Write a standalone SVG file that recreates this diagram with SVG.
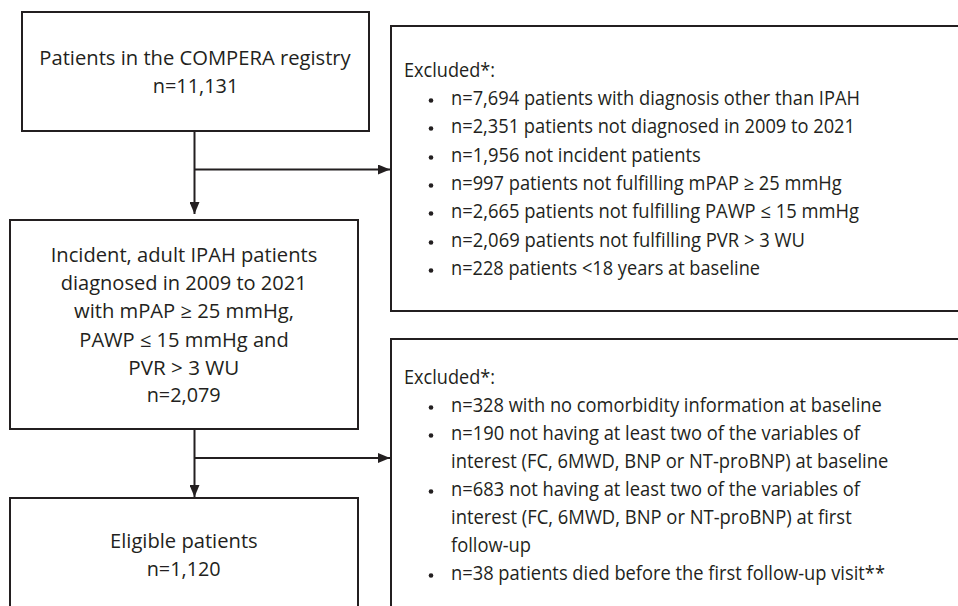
<svg xmlns="http://www.w3.org/2000/svg" width="958" height="606" viewBox="0 0 958 606">
<style>
.box{fill:#fff;stroke:#231f20;stroke-width:2}
.t{font-family:"Open Sans",Lato,"Liberation Sans",sans-serif;font-size:19.5px;fill:#231f20}
.ln{stroke:#231f20;stroke-width:2;fill:none}
.b{fill:#231f20}
</style>
<defs>
<marker id="ah" viewBox="0 0 12 10" refX="12" refY="5" markerWidth="12" markerHeight="10" markerUnits="userSpaceOnUse" orient="auto">
<path d="M0,0 L12,5 L0,10 Z" fill="#231f20"/>
</marker>
</defs>
<rect width="958" height="606" fill="#fff"/>
<g id="connectors">
<path class="ln" d="M194.5,131 V214" marker-end="url(#ah)"/>
<path class="ln" d="M194.5,169.5 H390" marker-end="url(#ah)"/>
<path class="ln" d="M194.5,429 V497" marker-end="url(#ah)"/>
<path class="ln" d="M194.5,458 H390" marker-end="url(#ah)"/>
</g>
<g id="registry">
<rect class="box" x="22" y="12" width="347" height="119"/>
<g class="t">
<text x="39.3" y="65" textLength="311.4" lengthAdjust="spacingAndGlyphs">Patients in the COMPERA registry</text>
<text x="152.7" y="93" textLength="85.6" lengthAdjust="spacingAndGlyphs">n=11,131</text>
</g>
</g>
<g id="excluded1">
<rect class="box" x="391" y="26" width="600" height="285"/>
<g class="b">
<circle cx="431" cy="100.5" r="2.3"/><circle cx="431" cy="128.5" r="2.3"/><circle cx="431" cy="157.5" r="2.3"/><circle cx="431" cy="185.5" r="2.3"/><circle cx="431" cy="213.5" r="2.3"/><circle cx="431" cy="242.5" r="2.3"/><circle cx="431" cy="270.5" r="2.3"/>
</g>
<g class="t">
<text x="404" y="77" textLength="91" lengthAdjust="spacingAndGlyphs">Excluded*:</text>
<text x="451" y="105" textLength="409" lengthAdjust="spacingAndGlyphs">n=7,694 patients with diagnosis other than IPAH</text>
<text x="451" y="133" textLength="404" lengthAdjust="spacingAndGlyphs">n=2,351 patients not diagnosed in 2009 to 2021</text>
<text x="451" y="162" textLength="249.7" lengthAdjust="spacingAndGlyphs">n=1,956 not incident patients</text>
<text x="451" y="190" textLength="390.7" lengthAdjust="spacingAndGlyphs">n=997 patients not fulfilling mPAP ≥ 25 mmHg</text>
<text x="451" y="218" textLength="408" lengthAdjust="spacingAndGlyphs">n=2,665 patients not fulfilling PAWP ≤ 15 mmHg</text>
<text x="451" y="247" textLength="354" lengthAdjust="spacingAndGlyphs">n=2,069 patients not fulfilling PVR &gt; 3 WU</text>
<text x="451" y="275" textLength="309" lengthAdjust="spacingAndGlyphs">n=228 patients &lt;18 years at baseline</text>
</g>
</g>
<g id="incident">
<rect class="box" x="10" y="220" width="348" height="209"/>
<g class="t">
<text x="50.7" y="262" textLength="266.6" lengthAdjust="spacingAndGlyphs">Incident, adult IPAH patients</text>
<text x="60.7" y="290" textLength="246" lengthAdjust="spacingAndGlyphs">diagnosed in 2009 to 2021</text>
<text x="74" y="318" textLength="220" lengthAdjust="spacingAndGlyphs">with mPAP ≥ 25 mmHg,</text>
<text x="79.3" y="347" textLength="209.4" lengthAdjust="spacingAndGlyphs">PAWP ≤ 15 mmHg and</text>
<text x="128.3" y="375" textLength="111" lengthAdjust="spacingAndGlyphs">PVR &gt; 3 WU</text>
<text x="146.7" y="402" textLength="74" lengthAdjust="spacingAndGlyphs">n=2,079</text>
</g>
</g>
<g id="excluded2">
<rect class="box" x="391" y="339" width="600" height="300"/>
<g class="b">
<circle cx="431" cy="407.5" r="2.3"/><circle cx="431" cy="435.5" r="2.3"/><circle cx="431" cy="491.5" r="2.3"/><circle cx="431" cy="575.5" r="2.3"/>
</g>
<g class="t">
<text x="404" y="384" textLength="91" lengthAdjust="spacingAndGlyphs">Excluded*:</text>
<text x="451" y="412" textLength="430.7" lengthAdjust="spacingAndGlyphs">n=328 with no comorbidity information at baseline</text>
<text x="451" y="440" textLength="409" lengthAdjust="spacingAndGlyphs">n=190 not having at least two of the variables of</text>
<text x="451" y="468" textLength="437.3" lengthAdjust="spacingAndGlyphs">interest (FC, 6MWD, BNP or NT-proBNP) at baseline</text>
<text x="451" y="496" textLength="409" lengthAdjust="spacingAndGlyphs">n=683 not having at least two of the variables of</text>
<text x="451" y="524" textLength="400.7" lengthAdjust="spacingAndGlyphs">interest (FC, 6MWD, BNP or NT-proBNP) at first</text>
<text x="451" y="552" textLength="80" lengthAdjust="spacingAndGlyphs">follow-up</text>
<text x="451" y="580" textLength="434" lengthAdjust="spacingAndGlyphs">n=38 patients died before the first follow-up visit**</text>
</g>
</g>
<g id="eligible">
<rect class="box" x="10" y="498" width="348" height="140"/>
<g class="t">
<text x="110" y="548" textLength="147.7" lengthAdjust="spacingAndGlyphs">Eligible patients</text>
<text x="146.7" y="576" textLength="74" lengthAdjust="spacingAndGlyphs">n=1,120</text>
</g>
</g>
</svg>
